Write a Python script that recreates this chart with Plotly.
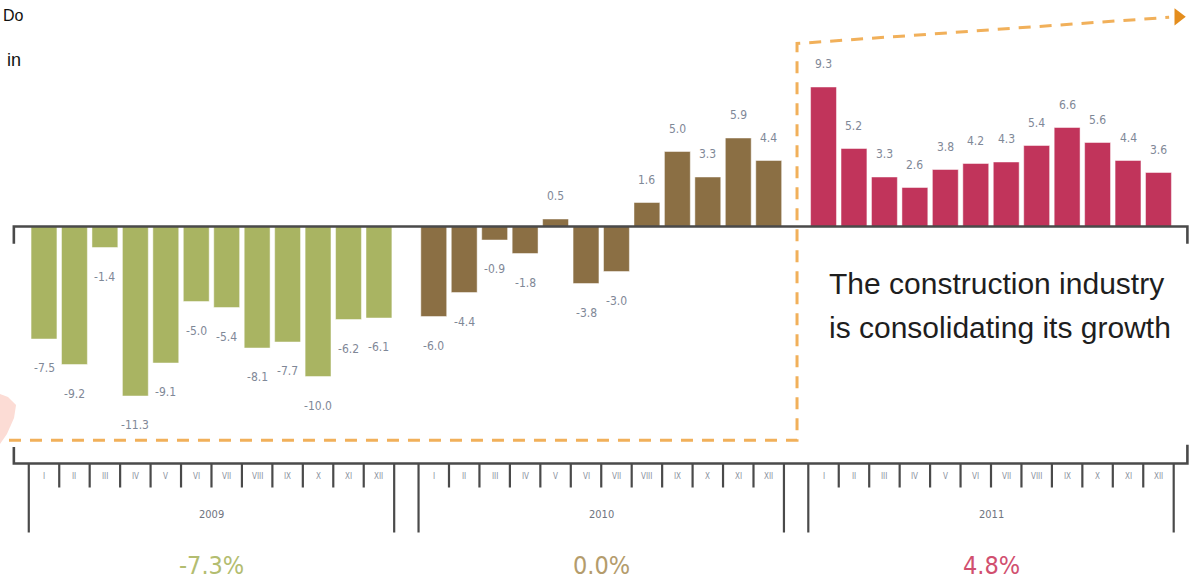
import plotly.graph_objects as go

# Monthly year-on-year growth of the construction index (%)
months = ["I", "II", "III", "IV", "V", "VI", "VII", "VIII", "IX", "X", "XI", "XII"]
years = ["2009", "2010", "2011"]
growth_2009 = [-7.5, -9.2, -1.4, -11.3, -9.1, -5.0, -5.4, -8.1, -7.7, -10.0, -6.2, -6.1]
growth_2010 = [-6.0, -4.4, -0.9, -1.8, 0.5, -3.8, -3.0, 1.6, 5.0, 3.3, 5.9, 4.4]
growth_2011 = [9.3, 5.2, 3.3, 2.6, 3.8, 4.2, 4.3, 5.4, 6.6, 5.6, 4.4, 3.6]
annual_growth = [-7.3, 0.0, 4.8]

series = [growth_2009, growth_2010, growth_2011]
bar_colors = ["#a9b462", "#8b6f44", "#c1345b"]
annual_colors = ["#b3bd70", "#b49c6c", "#d14f6f"]

W, H = 1198, 584
GROUP_STEP = 12.8          # x distance between the first months of consecutive years
X_RANGE = [-1.445, 37.898]
Y_RANGE = [-23.833, 15.1]

NARROW = "Liberation Sans Narrow, DejaVu Sans Condensed, Arial Narrow, sans-serif"
ARIAL = "Arial, Liberation Sans, sans-serif"
LABEL_COLOR = "#7f8897"
AXIS_COLOR = "#4a4a4a"

fig = go.Figure()
annotations = []
shapes = []

for g, (vals, color) in enumerate(zip(series, bar_colors)):
    xs = [g * GROUP_STEP + m for m in range(len(vals))]
    fig.add_trace(go.Bar(
        x=xs, y=vals, width=0.85,
        marker=dict(color=color, line=dict(width=0.8, color="rgba(255,255,255,0.6)")),
        hoverinfo="x+y", showlegend=False,
    ))
    # value labels above positive bars and below negative ones
    for x, v in zip(xs, vals):
        annotations.append(dict(
            x=x, y=v, xref="x", yref="y", text=f"{v:.1f}", showarrow=False,
            yshift=23 if v >= 0 else -29, xanchor="center", yanchor="middle",
            font=dict(family=NARROW, size=12, color=LABEL_COLOR),
        ))
    # month ticks and labels
    start = g * GROUP_STEP
    for m in range(13):
        tx = start + m - 0.5
        long_tick = m in (0, 12)
        shapes.append(dict(
            type="line", xref="x", yref="y", x0=tx, x1=tx,
            y0=-15.8, y1=-20.4 if long_tick else -17.4,
            line=dict(color=AXIS_COLOR, width=2.2),
        ))
    for m, name in enumerate(months):
        annotations.append(dict(
            x=start + m, y=-16.65, xref="x", yref="y", text=name, showarrow=False,
            font=dict(family=NARROW, size=8, color="#8a909c"),
        ))
    annotations.append(dict(
        x=start + 5.5, y=-19.2, xref="x", yref="y", text=years[g], showarrow=False,
        font=dict(family=NARROW, size=11, color="#6f7480"),
    ))
    a = annual_growth[g]
    annotations.append(dict(
        x=start + 5.5, y=-22.6, xref="x", yref="y", text=f"{a:.1f}%", showarrow=False,
        font=dict(family=NARROW, size=25, color=annual_colors[g]),
    ))

# zero line with end caps
shapes.append(dict(
    type="path", xref="x", yref="y",
    path="M -0.99,-1.15 L -0.99,0 L 37.55,0 L 37.55,-1.15",
    line=dict(color=AXIS_COLOR, width=2.6),
))
# lower time axis with raised ends
shapes.append(dict(
    type="path", xref="x", yref="y",
    path="M -0.99,-14.7 L -0.99,-15.8 L 37.55,-15.8 L 37.55,-14.55",
    line=dict(color=AXIS_COLOR, width=2.6),
))
# dashed orange outline of the recovery period
shapes.append(dict(
    type="path", xref="x", yref="y",
    path="M -1.15,-14.25 L 24.73,-14.25 L 24.73,12.2 L 36.95,13.95",
    line=dict(color="#f1b05a", width=3, dash="12px,9px"),
))
fig.add_trace(go.Scatter(
    x=[37.25], y=[13.98], mode="markers", hoverinfo="skip", showlegend=False,
    marker=dict(symbol="triangle-right", size=15, color="#e48d1d"),
))

# pale decorative blob at the left edge
def px(x, y):
    return f"{x / W:.4f},{1 - y / H:.4f}"

shapes.append(dict(
    type="path", xref="paper", yref="paper",
    path="M " + " L ".join(px(x, y) for x, y in
                           [(0, 394), (8, 397), (16, 405), (14, 418), (7, 434), (0, 444)]) + " Z",
    fillcolor="#fcdcd5", line=dict(width=0), layer="below",
))

# callout text
annotations.append(dict(
    x=827 / W, y=1 - 284 / H, xref="paper", yref="paper", xanchor="left", yanchor="middle",
    text="The construction industry", showarrow=False,
    font=dict(family=ARIAL, size=30, color="#1e1e1e"),
))
annotations.append(dict(
    x=827 / W, y=1 - 327 / H, xref="paper", yref="paper", xanchor="left", yanchor="middle",
    text="is consolidating its growth", showarrow=False,
    font=dict(family=ARIAL, size=30, color="#1e1e1e"),
))
# fragments of surrounding page text at the top-left corner
annotations.append(dict(
    x=1 / W, y=1 - 15 / H, xref="paper", yref="paper", xanchor="left", yanchor="middle",
    text="Do", showarrow=False, font=dict(family=ARIAL, size=16, color="#111"),
))
annotations.append(dict(
    x=23 / W, y=1 - 60 / H, xref="paper", yref="paper", xanchor="right", yanchor="middle",
    text="in", showarrow=False, font=dict(family=ARIAL, size=18, color="#111"),
))

fig.update_layout(
    width=W, height=H,
    margin=dict(l=0, r=0, t=0, b=0),
    paper_bgcolor="white", plot_bgcolor="white",
    barmode="overlay",
    xaxis=dict(range=X_RANGE, visible=False, fixedrange=True),
    yaxis=dict(range=Y_RANGE, visible=False, fixedrange=True),
    shapes=shapes, annotations=annotations,
    showlegend=False,
)

fig.write_html("out.html")
